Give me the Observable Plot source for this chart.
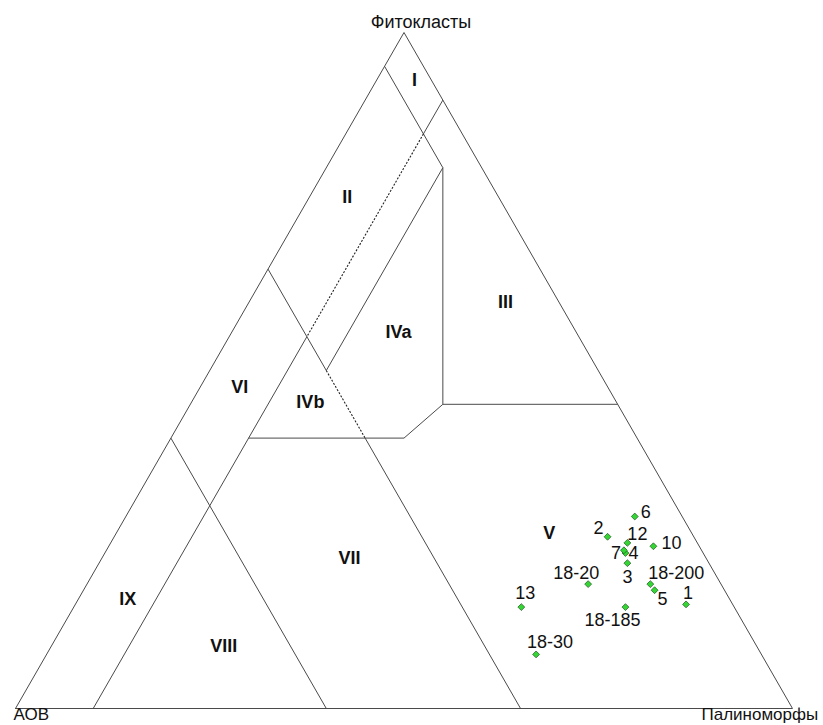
<!DOCTYPE html>
<html>
<head>
<meta charset="utf-8">
<script src="https://cdn.jsdelivr.net/npm/d3@7"></script>
<script src="https://cdn.jsdelivr.net/npm/@observablehq/plot@0.6"></script>
<style>
  html, body { margin: 0; padding: 0; background: #fff; }
  #chart svg { display: block; font-family: "Liberation Sans", Arial, sans-serif; }
</style>
</head>
<body>
<div id="chart"></div>
<script>
// ---- Data (ternary percentages) ----
const sampleLabels = ["1", "2", "3", "4", "5", "6", "7", "10", "12", "13", "18-20", "18-30", "18-185", "18-200"];
const phytoclasts  = [15.4, 25.4, 21.5, 23.0, 17.5, 28.4, 23.4, 24.0, 24.5, 15.0, 18.4, 8.0, 15.0, 18.4];
const palynomorphs = [78.6, 63.5, 68.0, 67.0, 73.5, 65.5, 66.6, 70.1, 66.5, 57.6, 64.5, 63.0, 71.0, 72.5];
const aov          = [6.0, 11.1, 10.5, 10.0, 9.0, 6.1, 10.0, 5.9, 9.0, 27.4, 17.1, 29.0, 14.0, 9.1];

// Tyson-type field boundaries, endpoints as [phytoclasts %, palynomorphs %]
const solidBoundaries = [
  [[95, 0], [80, 15]],
  [[90, 10], [85, 10]],
  [[55, 10], [0, 10]],
  [[80, 15], [50, 15]],
  [[65, 0], [50, 15]],
  [[40, 25], [0, 65]],
  [[40, 0], [0, 40]],
  [[80, 15], [45, 32.5]],
  [[45, 32.5], [45, 55]],
  [[45, 32.5], [40, 30]],
  [[40, 30], [40, 10]]
];
const dottedBoundaries = [
  [[85, 10], [55, 10]],
  [[50, 15], [40, 25]]
];
const outerTriangle = [[0, 0], [100, 0], [0, 100], [0, 0]];

const fieldNames = ["I", "II", "III", "IVa", "IVb", "V", "VI", "VII", "VIII", "IX"];
const fieldP     = [92.9, 75.6, 60.1, 55.6, 45.3, 26.0, 47.5, 22.2, 9.2, 16.1];
const fieldM     = [4.9, 4.9, 33.0, 21.5, 15.3, 55.7, 5.1, 31.9, 22.2, 6.4];

const apexNames = ["Фитокласты", "АОВ", "Палиноморфы"];
const apexP = [100, 0, 0];
const apexM = [0, 0, 100];

// label placement around each sample point (style config)
const labelOffset = {
  "1": [2, -11], "2": [-9, -9], "3": [0, 14], "4": [8, 0], "5": [8, 9],
  "6": [11, -4], "7": [-8, 3], "10": [18, -3], "12": [10, -9], "13": [4, -14],
  "18-20": [-12, -11], "18-30": [14, -12], "18-185": [-13, 13], "18-200": [26, -11]
};

// ---- ternary -> cartesian (in [0,1] units) ----
const tx = (p, m) => m / 100 + p / 200;
const ty = (p) => p / 100;

const samples = sampleLabels.map((label, i) => ({
  label, P: phytoclasts[i], M: palynomorphs[i], A: aov[i]
}));
const fields = fieldNames.map((name, i) => ({ name, P: fieldP[i], M: fieldM[i] }));
const apexes = apexNames.map((name, i) => ({ name, P: apexP[i], M: apexM[i] }));
const seg = (s) => ({ p1: s[0][0], m1: s[0][1], p2: s[1][0], m2: s[1][1] });

const lineColor = "#4a4a4a";
const font = "Liberation Sans, Arial, sans-serif";

const apexStyle = {
  "Фитокласты": { dx: 17, dy: -10, textAnchor: "middle", size: 18 },
  "АОВ": { dx: -2, dy: 6, textAnchor: "start", size: 17 },
  "Палиноморфы": { dx: -91, dy: 6, textAnchor: "start", size: 17 }
};

const chart = Plot.plot({
  width: 823,
  height: 725,
  margin: 0,
  style: { fontFamily: font, background: "#fff" },
  x: { domain: [0, 1], range: [15, 792], axis: null },
  y: { domain: [0, 1], range: [708, 32], axis: null },
  marks: [
    Plot.line(outerTriangle, {
      x: (d) => tx(d[0], d[1]), y: (d) => ty(d[0]),
      stroke: lineColor, strokeWidth: 1
    }),
    Plot.link(solidBoundaries.map(seg), {
      x1: (d) => tx(d.p1, d.m1), y1: (d) => ty(d.p1),
      x2: (d) => tx(d.p2, d.m2), y2: (d) => ty(d.p2),
      stroke: lineColor, strokeWidth: 1
    }),
    Plot.link(dottedBoundaries.map(seg), {
      x1: (d) => tx(d.p1, d.m1), y1: (d) => ty(d.p1),
      x2: (d) => tx(d.p2, d.m2), y2: (d) => ty(d.p2),
      stroke: "#222", strokeWidth: 1.1, strokeDasharray: "2,1.6"
    }),
    Plot.text(fields, {
      x: (d) => tx(d.P, d.M), y: (d) => ty(d.P), text: "name",
      fontSize: 18, fontWeight: "bold", fill: "#111",
      textAnchor: "middle", lineAnchor: "middle"
    }),
    ...apexes.map((a) => Plot.text([a], {
      x: (d) => tx(d.P, d.M), y: (d) => ty(d.P), text: "name",
      fontSize: apexStyle[a.name].size, fill: "#111", lineAnchor: "middle",
      textAnchor: apexStyle[a.name].textAnchor,
      dx: apexStyle[a.name].dx, dy: apexStyle[a.name].dy
    })),
    Plot.dot(samples, {
      x: (d) => tx(d.P, d.M), y: (d) => ty(d.P),
      symbol: "diamond2", r: 3.1,
      fill: "#33d633", stroke: "#1f4f1f", strokeWidth: 0.7
    }),
    ...samples.map((s) => Plot.text([s], {
      x: (d) => tx(d.P, d.M), y: (d) => ty(d.P), text: "label",
      fontSize: 18, fill: "#111",
      textAnchor: "middle", lineAnchor: "middle",
      dx: labelOffset[s.label][0], dy: labelOffset[s.label][1]
    }))
  ]
});

document.getElementById("chart").appendChild(chart);
</script>
</body>
</html>
